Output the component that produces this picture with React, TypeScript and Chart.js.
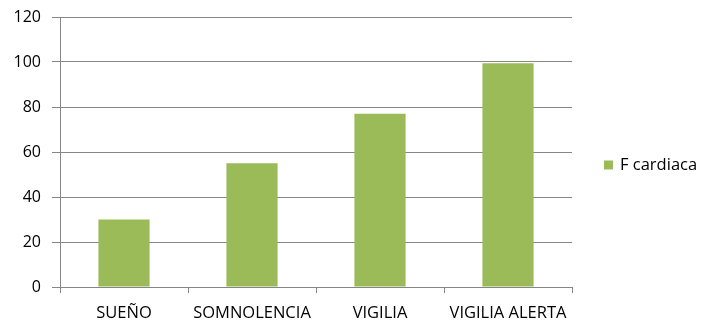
import React, { useEffect, useRef } from "react";
import { Chart, registerables } from "chart.js";

Chart.register(...registerables);

const categories = ["SUEÑO", "SOMNOLENCIA", "VIGILIA", "VIGILIA ALERTA"];
const seriesName = "F cardiaca";
const fCardiaca = [30, 55, 77, 99.5];
const yTicks = [0, 20, 40, 60, 80, 100, 120];

const FONT = "'Open Sans', 'Liberation Sans', sans-serif";
const GREEN = "#9BBB59";

const legendPlugin = {
  id: "sideLegend",
  afterDraw(chart: any) {
    const ctx = chart.ctx;
    const ds = chart.data.datasets[0];
    const y = (chart.chartArea.top + chart.chartArea.bottom) / 2 + 13;
    ctx.save();
    ctx.fillStyle = ds.backgroundColor;
    ctx.fillRect(604, y - 4.5, 9, 9);
    ctx.fillStyle = "#000";
    ctx.font = `16.5px ${FONT}`;
    ctx.textBaseline = "middle";
    ctx.textAlign = "left";
    ctx.fillText(ds.label, 620, y);
    ctx.restore();
  },
};

export default function App() {
  const ref = useRef<HTMLCanvasElement>(null);
  useEffect(() => {
    const chart = new Chart(ref.current!, {
      type: "bar",
      data: {
        labels: categories,
        datasets: [
          {
            label: seriesName,
            data: fCardiaca,
            backgroundColor: GREEN,
            barPercentage: 0.4,
            categoryPercentage: 1,
          },
        ],
      },
      options: {
        animation: false,
        responsive: false,
        layout: { padding: { left: 0, right: 130, top: 17, bottom: 0 } },
        plugins: { legend: { display: false }, tooltip: { enabled: false } },
        scales: {
          x: {
            grid: {
              display: true,
              drawOnChartArea: false,
              drawTicks: true,
              tickLength: 6,
              color: "#868686",
              offset: true,
            },
            border: { color: "#868686", width: 1 },
            ticks: {
              color: "#000",
              font: { family: FONT, size: 16.5 },
              padding: 10,
              maxRotation: 0,
              autoSkip: false,
            },
            afterFit: (axis: any) => {
              axis.height = 35;
              axis.paddingLeft = 0;
              axis.paddingRight = 0;
            },
          },
          y: {
            min: 0,
            max: 120,
            afterBuildTicks: (axis: any) => {
              axis.ticks = yTicks.map((v) => ({ value: v }));
            },
            grid: { color: "#868686", tickLength: 8 },
            border: { color: "#868686", width: 1 },
            ticks: {
              color: "#000",
              font: { family: FONT, size: 16 },
              padding: 11,
            },
            afterFit: (axis: any) => {
              axis.width = 60;
              axis.paddingTop = 0;
              axis.paddingBottom = 0;
            },
          },
        },
      },
      plugins: [legendPlugin],
    });
    return () => chart.destroy();
  }, []);
  return (
    <div style={{ position: "fixed", left: 0, top: 0, width: 702, height: 322, background: "#fff" }}>
      <canvas ref={ref} width={702} height={322} />
    </div>
  );
}
